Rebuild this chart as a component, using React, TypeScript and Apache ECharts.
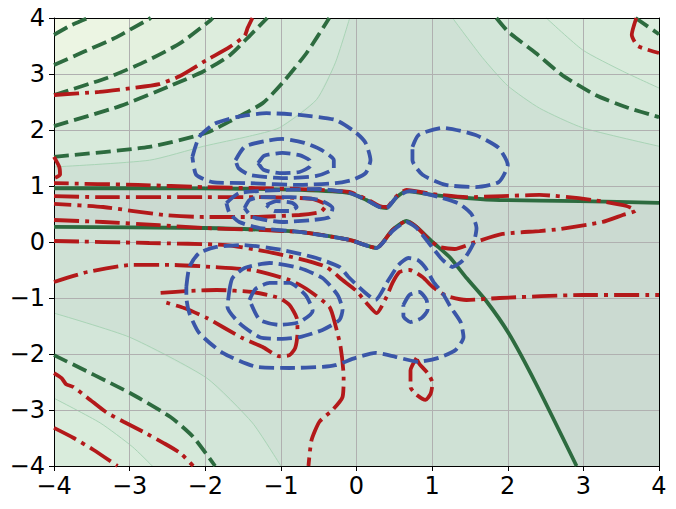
import React, { useEffect, useRef } from 'react';
import * as echarts from 'echarts';

// ---------- axis ticks ----------
const xTicks = [-4, -3, -2, -1, 0, 1, 2, 3, 4];
const yTicks = [-4, -3, -2, -1, 0, 1, 2, 3, 4];

// ---------- green contours (solid = zero level) ----------
const G1 = [[-4, 0.96], [-2.74, 0.96], [-1.455, 0.95], [-0.754, 0.93], [-0.093, 0.875], [0.132, 0.75], [0.304, 0.625], [0.397, 0.607], [0.529, 0.8], [0.661, 0.91], [1.005, 0.84], [1.455, 0.786], [1.89, 0.75], [2.95, 0.73], [4, 0.7]];
const G2 = [[-4, 0.27], [-2.02, 0.25], [-0.754, 0.18], [-0.093, 0.036], [0.265, -0.107], [0.476, 0.214], [0.661, 0.375], [0.794, 0.268], [1.005, 0], [1.23, -0.268], [1.455, -0.643], [1.706, -1.036], [2.01, -1.625], [2.368, -2.518], [2.91, -4]];
const GA = [[-4, 3.7], [-3.79, 3.86], [-3.55, 4.0]];
const GB = [[-4, 3.16], [-3.6, 3.4], [-3.2, 3.64], [-2.72, 4.0]];
const GC = [[-4, 2.625], [-3.3, 2.93], [-2.78, 3.23], [-2.33, 3.55], [-1.93, 3.96], [-1.9, 4.0]];
const GD = [[-4, 2.07], [-3.12, 2.43], [-2.46, 2.79], [-2.02, 3.05], [-1.67, 3.34], [-1.4, 3.7], [-1.18, 4.0]];
const GE = [[-4, 1.52], [-2.74, 1.7], [-1.98, 1.95], [-1.64, 2.18], [-1.24, 2.48], [-0.98, 2.84], [-0.66, 3.375], [-0.36, 4.0]];
const GF = [[1.85, 4.0], [2.01, 3.75], [2.37, 3.375], [2.72, 2.98], [3.16, 2.625], [3.56, 2.41], [4.0, 2.23]];
const GG = [[3.69, 4.0], [4.0, 3.71]];
const GH = [[-4, -2.02], [-2.99, -2.7], [-2.46, -3.125], [-2.16, -3.48], [-1.87, -4.0]];

// ---------- thin filled-contour boundaries ----------
const T1 = [[-4, 1.34], [-2.74, 1.46], [-2.02, 1.71], [-1.415, 1.89], [-1.02, 2.04], [-0.53, 2.54], [-0.28, 3.2], [-0.09, 4.0]];
const TR1 = [[1.27, 4.0], [1.667, 3.29], [2.0, 2.79], [2.42, 2.39], [2.99, 2.04], [4.0, 1.71]];
const TR2 = [[2.51, 4.0], [2.99, 3.43], [3.52, 3.05], [4.0, 2.75]];
const BL1 = [[-4, -1.27], [-3.0, -1.7], [-1.98, -2.43], [-1.376, -3.23], [-1.0, -4.0]];
const BL2 = [[-4, -2.79], [-3.39, -3.23], [-2.96, -3.66], [-2.7, -4.0]];

// ---------- red contours ----------
const R1 = [[-4, 2.625], [-3.4, 2.68], [-2.96, 2.75], [-2.61, 2.82], [-2.34, 2.96], [-1.98, 3.25], [-1.68, 3.48], [-1.48, 3.68], [-1.44, 3.82], [-1.376, 4.0]];
const R2 = [[3.7, 4.0], [3.64, 3.7], [3.72, 3.5], [4.0, 3.375]];
const R3 = [[-4, 1.52], [-3.93, 1.34], [-3.92, 1.2], [-4, 1.14]];
const RBIG = [[-4, 0.393], [-3.35, 0.357], [-2.61, 0.3], [-2.02, 0.25], [-0.754, 0.18], [-0.093, 0.036], [0.265, -0.107], [0.476, 0.214], [0.661, 0.375], [0.794, 0.268], [0.966, 0.036], [1.098, -0.09], [1.296, -0.125], [1.574, 0.0], [1.93, 0.143], [2.42, 0.196], [2.69, 0.232], [3.25, 0.357], [3.52, 0.482], [3.69, 0.56], [3.57, 0.643], [3.12, 0.75], [2.42, 0.84], [1.93, 0.82], [1.455, 0.8], [1.005, 0.857], [0.661, 0.93], [0.529, 0.82], [0.397, 0.625], [0.304, 0.643], [0.132, 0.768], [-0.093, 0.893], [-0.754, 0.946], [-2.02, 0.98], [-2.89, 1.02], [-4, 1.05]];
const R56 = [[-4, 0.82], [-3.35, 0.8], [-2.02, 0.8], [-1.28, 0.8], [-0.754, 0.786], [-0.58, 0.768], [-0.4, 0.66], [-0.476, 0.536], [-0.754, 0.482], [-1.415, 0.446], [-2.02, 0.446], [-2.55, 0.482], [-3.35, 0.625], [-4, 0.68]];
const R8 = [[-4, 0.018], [-2.74, -0.018], [-1.72, -0.054], [-1.24, -0.16], [-0.754, -0.3], [-0.4, -0.446], [-0.185, -0.68], [0.0, -0.875], [0.132, -1.09], [0.265, -1.27], [0.397, -0.98], [0.476, -0.73], [0.569, -0.536], [0.7, -0.5], [0.873, -0.625], [1.005, -0.8], [1.19, -0.964], [1.455, -1.036], [1.89, -1.0], [2.99, -0.946], [4.0, -0.946]];
const RA = [[-4, -0.714], [-3.56, -0.536], [-2.96, -0.41], [-2.43, -0.41], [-1.905, -0.446], [-1.376, -0.5], [-0.886, -0.68], [-0.66, -0.84], [-0.357, -1.16], [-0.28, -1.48], [-0.21, -1.875], [-0.17, -2.41], [-0.185, -2.77], [-0.317, -3.0], [-0.49, -3.21], [-0.595, -3.54], [-0.635, -4.0]];
const RLOOP = [[-2.59, -0.91], [-2.21, -0.875], [-1.85, -0.857], [-1.376, -0.893], [-1.02, -1.0], [-0.886, -1.125], [-0.79, -1.357], [-0.78, -1.625], [-0.81, -1.89], [-0.886, -2.02], [-1.02, -2.04], [-1.24, -1.875], [-1.51, -1.714], [-1.98, -1.357], [-2.28, -1.18], [-2.55, -1.07]];
const RE = [[-4, -2.34], [-3.9, -2.43], [-3.84, -2.54], [-3.74, -2.59], [-3.52, -2.82], [-3.31, -3.04], [-3.08, -3.21], [-2.82, -3.39], [-2.55, -3.59], [-2.33, -3.77], [-2.16, -4.0]];
const RF = [[-4, -3.32], [-3.74, -3.5], [-3.48, -3.71], [-3.16, -4.0]];
const RG = [[0.794, -2.07], [0.714, -2.29], [0.714, -2.59], [0.794, -2.73], [0.913, -2.82], [0.98, -2.71], [1.005, -2.52], [0.94, -2.34], [0.833, -2.18], [0.8, -2.1]];

// ---------- blue contours ----------
const B1 = [[-2.17, 1.52], [-2.08, 1.875], [-1.88, 2.11], [-1.59, 2.23], [-1.19, 2.3], [-0.754, 2.27], [-0.28, 2.18], [-0.013, 1.96], [0.12, 1.77], [0.185, 1.46], [0.12, 1.23], [-0.053, 1.11], [-0.28, 1.05], [-0.754, 1.02], [-1.415, 1.05], [-1.905, 1.07], [-2.12, 1.2], [-2.17, 1.52]];
const B2 = [[-1.6, 1.46], [-1.48, 1.7], [-1.22, 1.8], [-0.98, 1.84], [-0.69, 1.77], [-0.46, 1.64], [-0.3, 1.46], [-0.3, 1.32], [-0.53, 1.18], [-0.98, 1.14], [-1.415, 1.2], [-1.56, 1.32], [-1.6, 1.46]];
const B3 = [[-1.3, 1.41], [-1.22, 1.54], [-0.98, 1.59], [-0.754, 1.55], [-0.62, 1.46], [-0.61, 1.36], [-0.754, 1.25], [-1.02, 1.23], [-1.23, 1.29], [-1.3, 1.41]];
const B4 = [[0.74, 1.7], [0.82, 1.91], [1.14, 2.04], [1.574, 1.91], [1.88, 1.68], [2.0, 1.375], [1.88, 1.07], [1.574, 0.98], [1.18, 1.02], [0.873, 1.2], [0.74, 1.46], [0.74, 1.7]];
const B6 = [[-1.72, 0.696], [-1.55, 0.875], [-0.98, 0.93], [-0.49, 0.946], [-0.093, 0.875], [0.132, 0.75], [0.304, 0.625], [0.397, 0.607], [0.529, 0.8], [0.7, 0.91], [1.098, 0.8], [1.362, 0.68], [1.52, 0.5], [1.587, 0.25], [1.548, -0.018], [1.415, -0.32], [1.27, -0.446], [1.138, -0.32], [1.03, -0.143], [0.794, 0.25], [0.661, 0.357], [0.476, 0.196], [0.265, -0.107], [-0.093, 0.036], [-0.754, 0.18], [-1.28, 0.25], [-1.55, 0.357], [-1.68, 0.518], [-1.72, 0.696]];
const B7 = [[-1.48, 0.607], [-1.415, 0.75], [-1.28, 0.8], [-0.886, 0.8], [-0.49, 0.75], [-0.317, 0.607], [-0.357, 0.446], [-0.582, 0.393], [-0.98, 0.357], [-1.376, 0.446], [-1.48, 0.607]];
const B8 = [[-1.19, 0.66], [-1.06, 0.73], [-0.85, 0.7], [-0.79, 0.625], [-0.886, 0.554], [-1.085, 0.554], [-1.19, 0.66]];
const B9 = [[-2.25, -0.8], [-2.21, -0.446], [-2.08, -0.196], [-1.85, -0.089], [-1.51, -0.054], [-0.98, -0.143], [-0.53, -0.286], [-0.225, -0.446], [-0.106, -0.625], [0.119, -0.91], [0.251, -1.036], [0.423, -0.679], [0.556, -0.41], [0.688, -0.286], [0.807, -0.32], [0.913, -0.464], [1.018, -0.714], [1.138, -0.91], [1.243, -1.16], [1.376, -1.43], [1.415, -1.7], [1.31, -1.93], [1.085, -2.07], [0.82, -2.14], [0.516, -2.05], [0.251, -1.98], [-0.013, -2.07], [-0.28, -2.2], [-0.45, -2.23], [-0.886, -2.25], [-1.32, -2.23], [-1.77, -1.98], [-2.08, -1.625], [-2.21, -1.27], [-2.25, -0.98], [-2.25, -0.8]];
const B10 = [[-1.68, -0.857], [-1.64, -0.643], [-1.48, -0.464], [-1.15, -0.375], [-0.754, -0.464], [-0.45, -0.643], [-0.25, -0.946], [-0.185, -1.214], [-0.225, -1.393], [-0.45, -1.57], [-0.754, -1.7], [-0.98, -1.73], [-1.28, -1.7], [-1.55, -1.446], [-1.706, -1.16], [-1.68, -0.857]];
const B11 = [[-1.415, -1.036], [-1.336, -0.84], [-1.15, -0.73], [-0.886, -0.73], [-0.675, -0.946], [-0.58, -1.23], [-0.754, -1.43], [-1.02, -1.48], [-1.28, -1.39], [-1.415, -1.036]];
const B12 = [[0.62, -1.125], [0.7, -0.946], [0.833, -0.893], [0.926, -1.036], [0.94, -1.214], [0.86, -1.357], [0.714, -1.43], [0.62, -1.32], [0.62, -1.125]];

// ---------- styles ----------
const GREEN = '#2d6b3f';
const RED = '#b3191a';
const BLUE = '#3a56a8';
const THIN = '#a9d4b6';
const LW = 3.8;
const DASH = [15, 6];
const DASHDOT = [25, 6, 4, 6];

type Pt = number[];

const fillLayers: { pts: Pt[]; color: string }[] = [
  { pts: [...G1, [4, -4], ...G2.slice().reverse()], color: '#cbdad1' },
  { pts: [...T1, [-4, 4]], color: '#d3e6d9' },
  { pts: [...TR1, [4, 4]], color: '#d3e6d9' },
  { pts: [...BL1, [-4, -4]], color: '#d3e6d9' },
  { pts: [...GE, [-4, 4]], color: '#d8eadb' },
  { pts: [...GF, [4, 4]], color: '#d6e9da' },
  { pts: [...GH, [-4, -4]], color: '#d6e9da' },
  { pts: [...GD, [-4, 4]], color: '#ddeddd' },
  { pts: [...TR2, [4, 4]], color: '#d9ebdc' },
  { pts: [...BL2, [-4, -4]], color: '#d9ecdc' },
  { pts: [...GC, [-4, 4]], color: '#e4f1df' },
  { pts: [...GG, [4, 4]], color: '#dcedde' },
  { pts: [...GB, [-4, 4]], color: '#ecf5e3' },
  { pts: [...GA, [-4, 4]], color: '#f5fae7' },
];

const minus = (v: number) => (v < 0 ? '\u2212' + Math.abs(v) : String(v));

function lineSeries(data: Pt[], color: string, type: any, z: number, width = LW) {
  return {
    type: 'line',
    data,
    symbol: 'none',
    showSymbol: false,
    smooth: 0.2,
    silent: true,
    clip: true,
    z,
    lineStyle: { color, width, type },
  };
}

function buildOption() {
  const fills = fillLayers.map((layer, i) => ({
    type: 'custom',
    coordinateSystem: 'cartesian2d',
    silent: true,
    clip: true,
    z: 1,
    data: [[0, 0]],
    renderItem: (_params: any, api: any) => ({
      type: 'polygon',
      z2: i,
      shape: { points: layer.pts.map((p) => api.coord(p)) },
      style: { fill: layer.color, lineWidth: 0 },
    }),
  }));

  const thin = [T1, TR1, TR2, BL1, BL2].map((d) => lineSeries(d, THIN, 'solid', 2, 1));
  const greens = [
    lineSeries(G1, GREEN, 'solid', 4),
    lineSeries(G2, GREEN, 'solid', 4),
    ...[GA, GB, GC, GD, GE, GF, GG, GH].map((d) => lineSeries(d, GREEN, DASH, 4)),
  ];
  const reds = [R1, R2, R3, RBIG, R56, R8, RA, RLOOP, RE, RF, RG].map((d) => lineSeries(d, RED, DASHDOT, 5));
  const blues = [B1, B2, B3, B4, B6, B7, B8, B9, B10, B11, B12].map((d) => lineSeries(d, BLUE, DASH, 6));

  const labelStyle = { color: '#000', fontSize: 24, fontFamily: 'DejaVu Sans', formatter: minus };

  return {
    animation: false,
    grid: { left: 54, top: 18, width: 605, height: 448, show: true, backgroundColor: '#cfe1d5', borderWidth: 0 },
    xAxis: [
      {
        type: 'value', min: xTicks[0], max: xTicks[xTicks.length - 1], interval: 1, position: 'bottom', z: 3,
        axisLine: { show: true, onZero: false, lineStyle: { color: '#000', width: 1 } },
        axisTick: { show: true, length: 5, lineStyle: { color: '#000', width: 1 } },
        axisLabel: { ...labelStyle, margin: 8 },
        splitLine: { show: true, lineStyle: { color: '#b0b0b0', width: 1 } },
      },
      {
        type: 'value', min: xTicks[0], max: xTicks[xTicks.length - 1], position: 'top', z: 3,
        axisLine: { show: true, onZero: false, lineStyle: { color: '#000', width: 1 } },
        axisTick: { show: false }, axisLabel: { show: false }, splitLine: { show: false },
      },
    ],
    yAxis: [
      {
        type: 'value', min: yTicks[0], max: yTicks[yTicks.length - 1], interval: 1, position: 'left', z: 3,
        axisLine: { show: true, onZero: false, lineStyle: { color: '#000', width: 1 } },
        axisTick: { show: true, length: 5, lineStyle: { color: '#000', width: 1 } },
        axisLabel: { ...labelStyle, margin: 9 },
        splitLine: { show: true, lineStyle: { color: '#b0b0b0', width: 1 } },
      },
      {
        type: 'value', min: yTicks[0], max: yTicks[yTicks.length - 1], position: 'right', z: 3,
        axisLine: { show: true, onZero: false, lineStyle: { color: '#000', width: 1 } },
        axisTick: { show: false }, axisLabel: { show: false }, splitLine: { show: false },
      },
    ],
    series: [...fills, ...thin, ...greens, ...reds, ...blues],
  };
}

export default function App() {
  const ref = useRef<HTMLDivElement>(null);
  useEffect(() => {
    if (!ref.current) return;
    const chart = echarts.init(ref.current, null, { renderer: 'svg' });
    chart.setOption(buildOption() as any);
    return () => chart.dispose();
  }, []);
  return <div ref={ref} style={{ position: 'absolute', left: 0, top: 0, width: 676, height: 509, background: '#fff' }} />;
}
